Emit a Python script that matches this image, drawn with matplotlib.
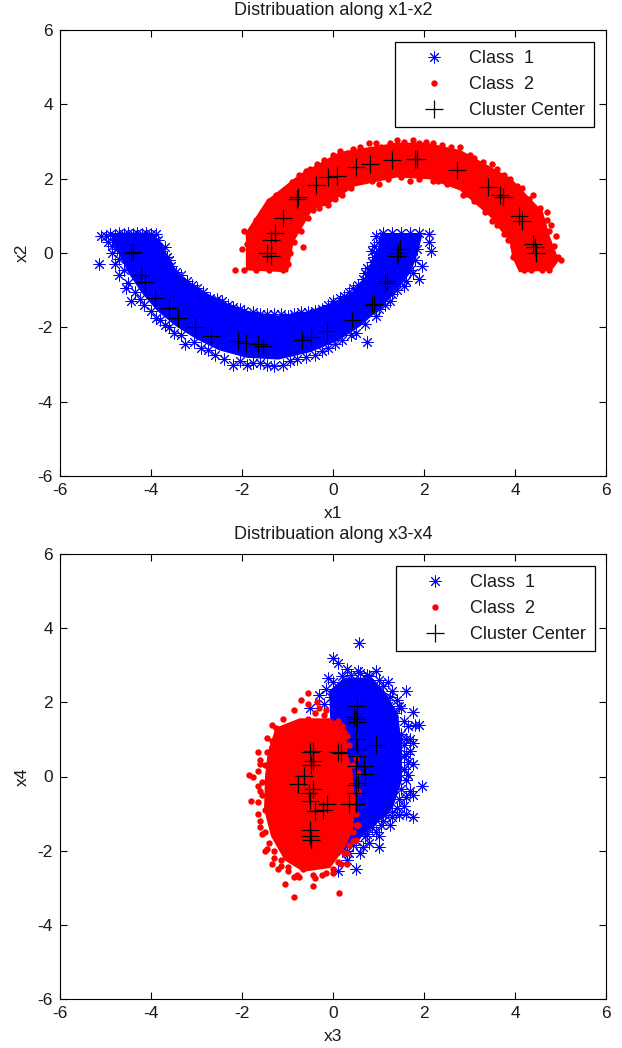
import matplotlib
matplotlib.use('Agg')
import matplotlib.pyplot as plt

plt.rcParams['font.family'] = ['Liberation Sans', 'DejaVu Sans']
plt.rcParams['axes.unicode_minus'] = False

W, H = 622.0, 1048.0

# solid parts of the clouds are kept as outlines,
# the loose points around them are listed one by one

# ---- x1-x2 panel
c1_core_x12 = [-4.85, -3.95, -3.75, -3.6, -3.4, -3.1, -2.7, -2.3, -1.8, -1.2, -0.6, -0.1, 0.4, 0.7, 0.85, 1.0, 1.05,
               1.95, 1.85, 1.7, 1.4, 1.05, 0.6, 0.1, -0.5, -1.2, -1.9, -2.5, -3.0, -3.45, -3.85, -4.2, -4.5, -4.7, -4.85]
c1_core_y12 = [0.5, 0.5, 0.2, -0.2, -0.55, -0.85, -1.15, -1.4, -1.6, -1.7, -1.6, -1.4, -1.1, -0.7, -0.3, 0.1, 0.5,
               0.5, 0.0, -0.5, -1.0, -1.45, -1.95, -2.35, -2.65, -2.85, -2.8, -2.6, -2.3, -1.95, -1.55, -1.05, -0.5, 0.0, 0.3]
c1_x12 = [-5.1, -4.9, -4.7, -4.5, -4.3, -4.1, -3.9, -3.7, -3.6, -3.45, -3.2, -3.0, -2.7, -2.45, -2.2, -1.95, -1.6, -1.3,
          -1.0, -0.7, -0.4, -0.1, 0.15, 0.35, 0.55, 0.7, 0.85, 0.95, 0.9, 0.95, 1.1, 1.3, 1.5, 1.7, 1.9, 2.1, 2.15, 1.95,
          2.1, 1.9, 1.7, 1.55, 1.3, 1.25, 1.0, 0.75, 0.5, 0.2, -0.1, -0.4, -0.8, -1.1, -1.3, -1.6, -1.9, -2.2, -2.6,
          -2.9, -3.25, -3.5, -3.7, -3.9, -4.15, -4.45, -4.55, -4.7, -4.8, -5.15, -4.85, -4.95, -3.8, -3.4, -2.92,
          -5.0, -4.8, -4.6, -4.4, -4.2, -4.0, -3.85, -3.8, -3.65, -3.55, -3.35, -3.1, -2.85, -2.55, -2.3, -2.05, -1.75,
          -1.45, -1.15, -0.85, -0.55, -0.25, 0.0, 0.25, 0.45, 0.65, 0.75, 0.9, 0.85, 1.0,
          1.85, 1.8, 1.75, 1.6, 1.4, 1.15, 0.95, 0.7, 0.4, 0.05, -0.25, -0.6, -0.95, -1.45, -1.75, -2.05, -2.4, -2.75,
          -3.05, -3.35, -3.6, -3.8, -4.0, -4.25, -4.35, -4.5, -4.6, -4.7, -4.75, -4.85]
c1_y12 = [0.45, 0.5, 0.55, 0.55, 0.55, 0.55, 0.5, 0.15, -0.2, -0.5, -0.75, -0.95, -1.2, -1.3, -1.45, -1.55, -1.65, -1.65,
          -1.7, -1.6, -1.55, -1.4, -1.2, -1.05, -0.85, -0.55, -0.25, 0.0, 0.2, 0.45, 0.55, 0.55, 0.55, 0.55, 0.55, 0.5, 0.05, -0.35,
          0.3, -0.7, -0.45, -0.9, -1.1, -1.3, -1.5, -2.4, -2.15, -2.35, -2.55, -2.75, -2.85, -3.0, -3.05, -2.95, -3.0, -3.0, -2.75,
          -2.55, -2.45, -2.15, -1.95, -1.75, -1.4, -1.3, -0.95, -0.6, -0.3, -0.3, 0.0, 0.3, 0.0, -0.75, -1.33,
          0.45, 0.45, 0.5, 0.5, 0.5, 0.5, 0.35, 0.05, -0.1, -0.35, -0.6, -0.85, -1.05, -1.25, -1.4, -1.5, -1.6,
          -1.65, -1.65, -1.65, -1.6, -1.5, -1.3, -1.15, -0.95, -0.7, -0.4, -0.1, 0.05, 0.3,
          0.1, -0.2, -0.55, -0.75, -1.0, -1.4, -1.7, -1.9, -2.2, -2.45, -2.65, -2.8, -2.9, -3.0, -2.95, -2.9, -2.85, -2.6,
          -2.4, -2.2, -2.0, -1.8, -1.55, -1.25, -1.05, -0.8, -0.45, -0.15, 0.1, 0.2]

c2_core_x12 = [-1.9, -1.9, -1.45, -0.73, 0.15, 1.4, 2.05, 2.8, 3.9, 4.6, 4.75, 4.95, 4.8, 4.1, 3.95, 3.9, 3.45, 2.8,
               2.13, 1.4, 0.45, -0.13, -0.45, -0.88, -1.0]
c2_core_y12 = [-0.45, 0.55, 1.4, 2.1, 2.7, 2.95, 2.95, 2.75, 2.0, 1.1, 0.45, -0.2, -0.45, -0.5, -0.1, 0.3, 1.0, 1.7,
               2.0, 2.05, 1.8, 1.3, 1.2, 0.3, -0.5]
c2_x12 = [-2.15, -1.95, -1.7, -1.4, -1.1, -2.0, -1.95, -1.75, -1.45, -1.25, -0.95, -0.75, -0.5, -0.2, 0.15, 0.45, 0.8,
          1.05, 1.4, 1.75, 2.05, 2.4, 2.8, 3.1, 3.5, 3.75, 4.15, 4.4, 4.7, 4.8, 4.9, 5.0, 4.6, 4.2, 3.95, 3.75, 3.5,
          2.85, 2.6, 2.2, 1.7, 1.0, 0.6, 0.2, -0.45, -0.8, -0.65, -1.45, -1.05, -1.2,
          -1.9, -1.85, -1.7, -1.55, -1.4, -1.1, -0.9, -0.6, -0.35, 0.0, 0.3, 0.6, 0.95, 1.25, 1.55, 1.9, 2.2, 2.6, 3.0,
          3.3, 3.6, 3.9, 4.05, 4.3, 4.55, 4.7, 4.75, 4.85, 4.95, 4.75, 4.35,
          3.95, 3.85, 3.6, 3.35, 3.1, 2.95, 2.5, 2.3, 1.9, 1.5, 1.2, 0.85, 0.4, 0.05, -0.1, -0.3, -0.55, -0.7, -0.85, -0.95, -1.0]
c2_y12 = [-0.45, -0.45, -0.45, -0.45, -0.45, 0.1, 0.6, 0.7, 1.2, 1.55, 1.75, 2.1, 2.25, 2.5, 2.75, 2.8, 2.95,
          2.85, 3.05, 3.05, 3.0, 2.9, 2.85, 2.55, 2.4, 2.1, 1.75, 1.55, 1.1, 0.75, 0.45, -0.2, -0.45, -0.45, -0.1, 0.5, 0.85,
          1.55, 2.0, 1.95, 1.95, 1.85, 2.05, 1.55, 1.15, 0.7, 0.15, 0.25, 0.35, 1.35,
          0.25, 0.45, 0.9, 1.1, 1.4, 1.65, 1.9, 2.2, 2.4, 2.65, 2.7, 2.85, 2.95, 2.95, 3.0, 2.95, 2.95, 2.85, 2.65,
          2.45, 2.25, 2.0, 1.8, 1.45, 1.2, 0.9, 0.6, 0.2, -0.1, -0.45, -0.45,
          0.15, 0.35, 0.75, 1.1, 1.4, 1.6, 1.85, 1.95, 2.0, 2.05, 2.0, 1.95, 1.75, 1.45, 1.3, 1.2, 0.95, 0.6, 0.3, 0.0, -0.3]

cc_x12 = [-4.44, -4.4, -4.22, -4.13, -3.91, -3.6, -3.41, -3.03, -2.68, -2.09, -1.91, -1.65, -1.54, -0.68, -0.48, -0.13,
          0.42, 0.86, 0.9, 1.14, 1.19, 1.43, 1.48, 1.41,
          -1.45, -1.36, -1.36, -1.27, -1.1, -0.79, -0.77, -0.37, -0.11, 0.09, 0.51, 0.81, 1.3, 1.8, 1.85, 2.73, 3.41,
          3.67, 3.74, 4.09, 4.15, 4.4, 4.44, 4.46]
cc_y12 = [0.0, 0.02, -0.6, -0.79, -1.2, -1.49, -1.74, -2.0, -2.22, -2.38, -2.43, -2.46, -2.49, -2.35, -2.27, -2.11,
          -1.8, -1.4, -1.38, -0.8, -0.76, 0.0, 0.12, -0.08,
          0.0, -0.08, 0.35, 0.53, 0.94, 1.45, 1.5, 1.83, 2.05, 2.08, 2.32, 2.4, 2.49, 2.52, 2.54, 2.24, 1.78,
          1.56, 1.51, 1.0, 0.87, 0.25, 0.16, 0.0]

# ---- x3-x4 panel
c1_core_x34 = [-0.07, 0.25, 0.85, 1.15, 1.42, 1.5, 1.5, 1.3, 0.95, 0.5, 0.2, 0.0]
c1_core_y34 = [2.3, 2.65, 2.65, 2.25, 1.65, 0.8, -0.1, -0.85, -1.25, -1.75, -1.95, 0.0]
c1_x34 = [0.57, 0.0, 0.1, 0.3, 0.55, 0.75, 0.95, 1.2, 1.3, 1.6, 1.75, 1.45, 1.8, 1.9, 1.7, 1.6, 1.75, 1.55, 1.95, 1.6,
          1.75, 1.6, 1.75, 1.3, 1.1, 0.95, 0.75, 0.65, 0.45, 0.3, 0.5, 0.1, -0.3, -0.5, -0.25, -0.1, 1.0, 1.4, 0.85, 1.5, 1.2,
          0.0, 0.2, 0.4, 0.6, 0.8, 1.0, 1.1, 1.25, 1.4, 1.5, 1.55, 1.65, 1.5, 1.6, 1.55, 1.7, 1.75, 1.55, 1.65, 1.55, 1.65,
          1.6, 1.5, 1.7, 1.45, 1.55, 1.3, 1.45, 1.15, 1.05, 1.25, 0.85, 1.0, 0.7, 0.8, 0.5, 0.6, 0.35, 0.3, 0.2,
          -0.05, -0.2, -0.15, 1.2, 1.35]
c1_y34 = [3.6, 3.2, 3.05, 2.9, 2.85, 2.75, 2.85, 2.55, 2.3, 2.3, 1.75, 1.9, 1.4, 1.4, 1.0, 0.6, 0.35, 0.2, -0.25, -0.55,
          -0.5, -1.0, -1.1, -1.1, -1.2, -1.5, -1.55, -1.9, -1.85, -2.0, -2.5, -2.55, 2.2, 1.85, 1.35, 2.65, -1.9, -0.85, 2.1, 1.0, 1.5,
          2.55, 2.7, 2.75, 2.8, 2.7, 2.6, 2.45, 2.15, 2.05, 1.85, 1.5, 1.35, 1.15, 1.0, 0.85, 0.7, 0.9, 0.55, 0.4, 0.2, 0.05,
          -0.1, -0.35, -0.4, -0.6, -0.8, -0.95, -1.05, -1.05, -1.3, -1.3, -1.35, -1.6, -1.6, -1.8, -1.75, -2.05, -2.05, -2.25, -2.0,
          2.15, 1.95, 2.35, 1.9, 1.7]

c2_core_x34 = [-1.25, -0.73, -0.07, 0.28, 0.3, 0.41, 0.48, 0.42, 0.23, -0.07, -0.65, -1.05, -1.35, -1.5, -1.48, -1.42]
c2_core_y34 = [1.3, 1.55, 1.55, 1.18, 0.64, 0.19, -0.8, -1.45, -1.95, -2.45, -2.55, -2.25, -1.6, -0.89, 0.0, 0.64]
c2_x34 = [-0.55, -0.35, -0.3, -0.15, -0.7, -0.55, -0.85, -1.1, -1.35, -1.2, -1.45, -1.65, -1.35, -1.6, -1.85, -1.75, -1.65,
          -1.55, -1.8, -1.65, -1.6, -1.55, -1.45, -1.5, -1.35, -1.3, -1.2, -1.15, -1.0, -0.85, -0.75, -0.65, -0.4, -0.25, 0.0,
          0.13, 0.17, -0.85, -1.05, -0.45, 0.3, 0.45, 0.5, 0.55, 0.45, 0.25, 0.1, 0.4, 0.3,
          -1.1, -0.9, -0.75, -0.55, -0.4, -0.2, -0.1, 0.05, 0.2, 0.3, 0.35, 0.5, 0.55, 0.45, 0.5, 0.55, 0.45, 0.5, 0.35,
          0.25, 0.1, 0.0, -0.15, -0.45, -0.8, -1.0, -1.15, -1.3, -1.4, -1.5, -1.6, -1.5, -1.65, -1.6, -1.55, -1.65, -1.5,
          -1.6, -1.45, -1.35, -1.25, -1.2]
c2_y34 = [2.25, 2.0, 1.85, 1.8, 2.05, 1.95, 1.8, 1.55, 1.4, 1.25, 1.05, 0.65, 0.8, 0.35, 0.05, 0.0, -0.25,
          -0.5, -0.65, -1.0, -1.35, -1.55, -1.95, -2.0, -2.35, -2.2, -2.5, -2.4, -2.55, -2.7, -2.7, -2.5, -2.75, -2.65, -2.6,
          -3.15, -2.35, -3.25, -2.9, -2.95, -2.35, -1.75, -1.3, -0.4, 0.3, 1.2, 1.5, -1.0, -2.05,
          1.25, 1.35, 1.45, 1.55, 1.7, 1.65, 1.5, 1.45, 1.35, 1.1, 0.85, 0.5, 0.1, -0.6, -1.0, -1.3, -1.5, -1.7, -1.85,
          -2.05, -2.3, -2.5, -2.6, -2.65, -2.65, -2.45, -2.25, -2.0, -1.8, -1.5, -1.2, -0.9, -0.7, -0.4, -0.15, 0.15, 0.3,
          0.45, 0.65, 0.95, 1.3, 0.9]

cc_x34 = [0.52, 0.5, 0.47, 0.53, 0.95, 0.5, 0.52, 0.52, 0.5, 0.68, 0.7, 0.55, 0.5, 0.36, 0.5, 0.5,
          -0.43, -0.5, -0.44, -0.48, 0.12, 0.17, -0.64, -0.78, -0.45, -0.53, -0.51, -0.14, -0.23, -0.39, -0.5, -0.5, -0.48]
cc_y34 = [1.91, 1.55, 1.6, 1.47, 0.84, 1.02, 0.75, 0.54, 0.29, 0.29, 0.08, -0.17, -0.24, -0.75, -0.73, -0.45,
          0.68, 0.66, 0.41, 0.32, 0.66, 0.64, 0.01, -0.2, -0.35, -0.44, -0.66, -0.74, -0.89, -0.93, -1.45, -1.61, -1.7]

ticks = [-6, -4, -2, 0, 2, 4, 6]
ink = '#1a1a1a'


def panel(top, bottom, core1, pts1, core2, pts2, centers, title, xl, yl, leg_box):
    ax = fig.add_axes([60 / W, 1 - bottom / H, 546 / W, (bottom - top) / H])
    ax.fill(core1[0], core1[1], color='b', lw=1, zorder=2)
    l1, = ax.plot(pts1[0], pts1[1], marker=(8, 2, 0), color='b', ms=8.5, mew=0.7, ls='none', zorder=2, label='Class  1')
    ax.fill(core2[0], core2[1], color='r', lw=1, zorder=3)
    l2, = ax.plot(pts2[0], pts2[1], 'o', color='r', ms=4.6, mew=0, ls='none', zorder=3, label='Class  2')
    l3, = ax.plot(centers[0], centers[1], '+', color='k', ms=13, mew=0.9, ls='none', zorder=4, label='Cluster Center')
    ax.set_xlim(-6, 6)
    ax.set_ylim(-6, 6)
    ax.set_xticks(ticks)
    ax.set_yticks(ticks)
    ax.tick_params(direction='in', top=True, right=True, length=5, width=0.8, labelsize=12.5,
                   pad=5, color='k', labelcolor=ink)
    ax.set_xlabel(xl, fontsize=12.5, color=ink, labelpad=6)
    ax.set_ylabel(yl, fontsize=12.5, color=ink, labelpad=6)
    ax.set_title(title, fontsize=13, color=ink, pad=11)
    x0, y0, x1, y1 = leg_box
    leg = ax.legend(handles=[l1, l2, l3], loc='lower left', mode='expand', fontsize=13, fancybox=False, framealpha=1,
                    edgecolor='k', bbox_to_anchor=((x0 - 60) / 546, (bottom - y1) / (bottom - top),
                                                   (x1 - x0) / 546, (y1 - y0) / (bottom - top)),
                    borderaxespad=0, borderpad=0.44, labelspacing=0.5, handletextpad=0.2, handlelength=3.46)
    leg.get_frame().set_linewidth(0.9)
    for t in leg.get_texts():
        t.set_color(ink)
    return ax


fig = plt.figure(figsize=(6.22, 10.48), dpi=100)
panel(30, 476, (c1_core_x12, c1_core_y12), (c1_x12, c1_y12), (c2_core_x12, c2_core_y12), (c2_x12, c2_y12),
      (cc_x12, cc_y12), 'Distribuation along x1-x2', 'x1', 'x2', (395, 43, 594, 127))
panel(554, 999, (c1_core_x34, c1_core_y34), (c1_x34, c1_y34), (c2_core_x34, c2_core_y34), (c2_x34, c2_y34),
      (cc_x34, cc_y34), 'Distribuation along x3-x4', 'x3', 'x4', (396, 567, 595, 651))
fig.savefig('out.png', dpi=100)
